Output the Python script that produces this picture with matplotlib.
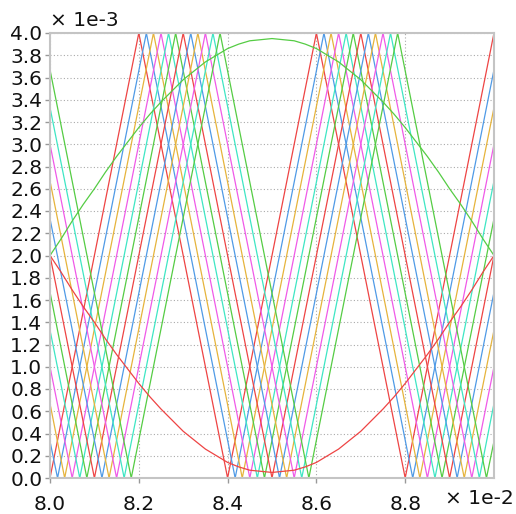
import matplotlib
matplotlib.use('Agg')
import matplotlib.pyplot as plt

# Ondas triangulares (x em 1e-2, y em 1e-3) - vertices
tri_x = [
    [8.0, 8.2, 8.4, 8.6, 8.8, 9.0],
    [8.0, 8.017, 8.217, 8.417, 8.617, 8.817, 9.0],
    [8.0, 8.033, 8.233, 8.433, 8.633, 8.833, 9.0],
    [8.0, 8.05, 8.25, 8.45, 8.65, 8.85, 9.0],
    [8.0, 8.067, 8.267, 8.467, 8.667, 8.867, 9.0],
    [8.0, 8.083, 8.283, 8.483, 8.683, 8.883, 9.0],
    [8.0, 8.1, 8.3, 8.5, 8.7, 8.9, 9.0],
    [8.0, 8.117, 8.317, 8.517, 8.717, 8.917, 9.0],
    [8.0, 8.133, 8.333, 8.533, 8.733, 8.933, 9.0],
    [8.0, 8.15, 8.35, 8.55, 8.75, 8.95, 9.0],
    [8.0, 8.167, 8.367, 8.567, 8.767, 8.967, 9.0],
    [8.0, 8.183, 8.383, 8.583, 8.783, 8.983, 9.0],
]
tri_y = [
    [0.0, 4.0, 0.0, 4.0, 0.0, 4.0],
    [0.33, 0.0, 4.0, 0.0, 4.0, 0.0, 3.67],
    [0.67, 0.0, 4.0, 0.0, 4.0, 0.0, 3.33],
    [1.0, 0.0, 4.0, 0.0, 4.0, 0.0, 3.0],
    [1.33, 0.0, 4.0, 0.0, 4.0, 0.0, 2.67],
    [1.67, 0.0, 4.0, 0.0, 4.0, 0.0, 2.33],
    [2.0, 0.0, 4.0, 0.0, 4.0, 0.0, 2.0],
    [2.33, 0.0, 4.0, 0.0, 4.0, 0.0, 1.67],
    [2.67, 0.0, 4.0, 0.0, 4.0, 0.0, 1.33],
    [3.0, 0.0, 4.0, 0.0, 4.0, 0.0, 1.0],
    [3.33, 0.0, 4.0, 0.0, 4.0, 0.0, 0.67],
    [3.67, 0.0, 4.0, 0.0, 4.0, 0.0, 0.33],
]
cores = ['#ee4444', '#4f9ae6', '#e6b43c', '#f05ae8', '#3ee6c4', '#55cc44']

# Curvas suaves (verde acima, vermelha abaixo)
arco_x = [8.0, 8.025, 8.05, 8.075, 8.1, 8.125, 8.15, 8.175, 8.2, 8.225, 8.25,
          8.275, 8.3, 8.325, 8.35, 8.375, 8.4, 8.425, 8.45, 8.475, 8.5,
          8.525, 8.55, 8.575, 8.6, 8.625, 8.65, 8.675, 8.7, 8.725, 8.75,
          8.775, 8.8, 8.825, 8.85, 8.875, 8.9, 8.925, 8.95, 8.975, 9.0]
arco_verde = [2.00, 2.15, 2.31, 2.46, 2.60, 2.75, 2.89, 3.02, 3.15, 3.27, 3.38,
              3.48, 3.58, 3.66, 3.74, 3.80, 3.86, 3.90, 3.93, 3.94, 3.95,
              3.94, 3.93, 3.90, 3.86, 3.80, 3.74, 3.66, 3.58, 3.48, 3.38,
              3.27, 3.15, 3.02, 2.89, 2.75, 2.60, 2.46, 2.31, 2.15, 2.00]
arco_vermelho = [2.00, 1.85, 1.69, 1.54, 1.40, 1.25, 1.11, 0.98, 0.85, 0.73, 0.62,
                 0.52, 0.42, 0.34, 0.26, 0.20, 0.14, 0.10, 0.07, 0.06, 0.05,
                 0.06, 0.07, 0.10, 0.14, 0.20, 0.26, 0.34, 0.42, 0.52, 0.62,
                 0.73, 0.85, 0.98, 1.11, 1.25, 1.40, 1.54, 1.69, 1.85, 2.00]

xticks = [8.0, 8.2, 8.4, 8.6, 8.8]
yticks = [i / 5 for i in range(21)]

fig = plt.figure(figsize=(5.16, 5.14), dpi=100)
ax = fig.add_axes([50 / 516, 36 / 514, 444 / 516, 445 / 514])

for i in range(len(tri_x)):
    ax.plot(tri_x[i], tri_y[i], color=cores[i % 6], lw=0.9)

ax.plot(arco_x, arco_verde, color='#55cc44', lw=0.9)
ax.plot(arco_x, arco_vermelho, color='#ee4444', lw=0.9)

ax.set_xlim(8.0, 9.0)
ax.set_ylim(0.0, 4.0)
ax.set_xticks(xticks)
ax.set_yticks(yticks)
ax.set_xticklabels([f'{v:.1f}' for v in xticks])
ax.set_yticklabels([f'{v:.1f}' for v in yticks])
ax.tick_params(length=3.5, width=1, color='#999999', labelsize=14.5, labelcolor='#111111')
ax.tick_params(axis='y', pad=2)
ax.tick_params(axis='x', pad=9)

# grade pontilhada
ax.grid(True, color='#aaaaaa', linestyle=(0, (1, 2)), lw=0.8)
ax.set_axisbelow(True)
for s in ax.spines.values():
    s.set_color('#c4c4c4')
    s.set_linewidth(1.5)

fig.text(50 / 516, 1 - 20 / 514, '× 1e-3', fontsize=14.5, ha='left', va='center', color='#111111')
fig.text(514 / 516, 1 - 498 / 514, '× 1e-2', fontsize=14.5, ha='right', va='center', color='#111111')

plt.savefig('out.png', dpi=100)
